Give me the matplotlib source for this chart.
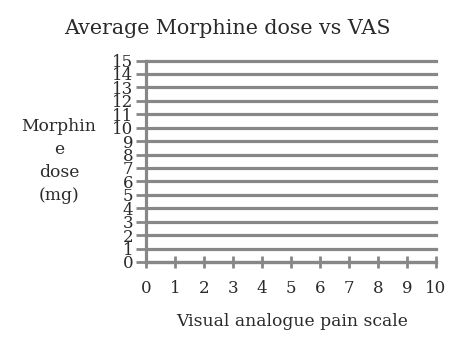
import matplotlib
matplotlib.use("Agg")
import matplotlib.pyplot as plt

# empty template chart: axes only, no series plotted yet
title = "Average Morphine dose vs VAS"
x_label = "Visual analogue pain scale"
y_label = "Morphin\ne\ndose\n(mg)"
vas_ticks = list(range(0, 11))
dose_ticks = list(range(0, 16))

plt.rcParams['font.family'] = ['DejaVu Serif']
text_col = "#2a2a2a"
grid_col = "#878787"

fig = plt.figure(figsize=(4.54, 3.4), dpi=100)
ax = fig.add_axes([146 / 454, 78 / 340, 290 / 454, 201.5 / 340])

ax.set_xlim(vas_ticks[0], vas_ticks[-1])
ax.set_ylim(dose_ticks[0], dose_ticks[-1])
ax.set_xticks(vas_ticks)
ax.set_yticks(dose_ticks)

ax.yaxis.grid(True, color=grid_col, linewidth=2.3)
for line in ax.get_ygridlines():
    line.set_clip_on(False)
ax.set_axisbelow(True)
for side in ["top", "right"]:
    ax.spines[side].set_visible(False)
for side in ["left", "bottom"]:
    ax.spines[side].set_color(grid_col)
    ax.spines[side].set_linewidth(2.3)

ax.tick_params(axis="y", direction="out", length=7, width=2, color=grid_col,
               labelsize=12, labelcolor=text_col, pad=2)
ax.tick_params(axis="x", direction="inout", length=8, width=2, color=grid_col,
               labelsize=12, labelcolor=text_col, pad=9)

fig.text(0.5, 1 - 28 / 340, title, ha="center", va="center",
         fontsize=14.9, color=text_col)
fig.text(292 / 454, 1 - 322 / 340, x_label, ha="center", va="center",
         fontsize=12.3, color=text_col)
fig.text(59 / 454, 1 - 161 / 340, y_label, ha="center", va="center",
         fontsize=12.3, color=text_col, linespacing=1.45)

fig.savefig("out.png", dpi=100)
